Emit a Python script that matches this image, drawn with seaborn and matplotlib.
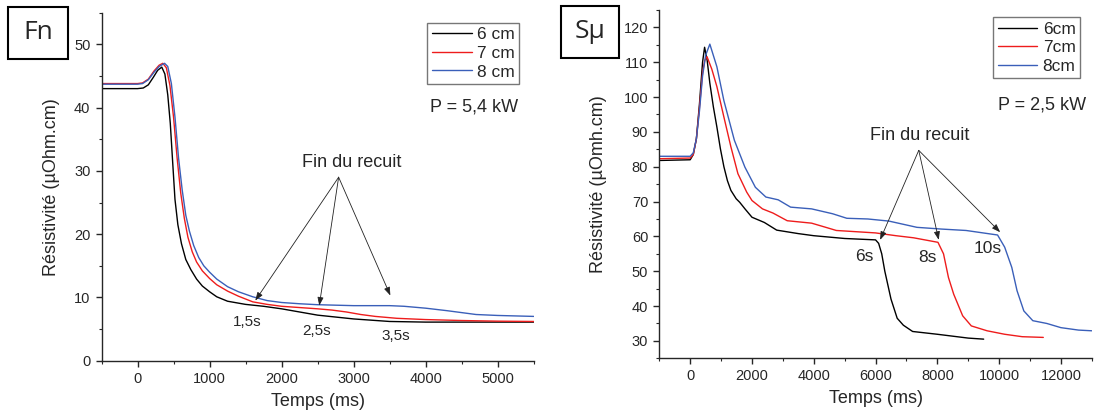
import numpy as np
import pandas as pd
import matplotlib
matplotlib.use("Agg")
import matplotlib.pyplot as plt
from matplotlib.patches import Rectangle
from matplotlib.ticker import MultipleLocator
import seaborn as sns

# ---------------- Data: left panel (Fn, P = 5,4 kW) ----------------
fn_6_x = [-500, 0, 80, 150, 220, 280, 337, 380, 420, 455, 490, 520, 560, 610, 670, 740, 820, 900, 1000,
          1100, 1250, 1500, 1750, 2000, 2250, 2500, 2750, 3000, 3250, 3500, 3750, 4000, 4500, 5000, 5500]
fn_6_y = [43.0, 43.0, 43.1, 43.6, 44.8, 45.9, 46.4, 45.3, 42.0, 37.5, 31.0, 25.5, 21.5, 18.5, 16.0, 14.4,
          12.9, 11.8, 10.9, 10.1, 9.4, 8.9, 8.6, 8.2, 7.7, 7.2, 6.9, 6.6, 6.4, 6.2, 6.15, 6.1, 6.1, 6.1, 6.1]

fn_7_x = [-500, 0, 70, 150, 230, 300, 351, 400, 450, 500, 550, 600, 650, 700, 760, 820, 900, 1000, 1100,
          1250, 1400, 1600, 1800, 2000, 2250, 2500, 2700, 2900, 3100, 3300, 3600, 4000, 4500, 5000, 5500]
fn_7_y = [43.8, 43.8, 43.9, 44.5, 45.8, 46.7, 47.0, 46.3, 43.5, 38.5, 32.0, 26.5, 22.5, 19.5, 17.2, 15.6,
          14.2, 13.0, 12.0, 11.0, 10.2, 9.3, 8.9, 8.6, 8.4, 8.2, 8.0, 7.7, 7.3, 7.0, 6.7, 6.5, 6.35, 6.25, 6.2]

fn_8_x = [-500, 0, 70, 150, 230, 300, 376, 420, 470, 520, 570, 620, 670, 720, 780, 850, 920, 1000, 1100,
          1250, 1400, 1600, 1800, 2000, 2250, 2500, 3000, 3500, 3700, 4000, 4300, 4700, 5000, 5500]
fn_8_y = [43.7, 43.7, 43.8, 44.4, 45.6, 46.5, 47.0, 46.5, 43.8, 38.5, 32.0, 27.0, 23.0, 20.5, 18.2, 16.3,
          15.0, 14.0, 12.9, 11.7, 10.9, 10.1, 9.5, 9.2, 9.0, 8.85, 8.7, 8.7, 8.6, 8.3, 7.9, 7.3, 7.15, 7.0]

# ---------------- Data: right panel (Sμ, P = 2,5 kW) ----------------
su_6_x = [-1000, 0, 100, 200, 300, 400, 466, 550, 636, 750, 864, 977, 1091, 1205, 1318, 1489, 1602, 1773,
          2000, 2400, 2800, 3500, 4000, 5000, 6000, 6100, 6200, 6300, 6500, 6700, 6900, 7200, 8000, 9000, 9500]
su_6_y = [81.8, 82.0, 83.5, 88.0, 98.0, 110.0, 114.3, 110.5, 104.0, 97.2, 91.4, 85.2, 80.0, 76.0, 73.2,
          70.8, 69.8, 67.9, 65.5, 64.0, 61.8, 60.8, 60.2, 59.4, 59.0, 58.0, 55.0, 50.0, 42.0, 36.5, 34.5,
          32.7, 31.9, 30.8, 30.5]

su_7_x = [-1000, 0, 100, 200, 300, 400, 470, 545, 700, 864, 1090, 1318, 1545, 1830, 2000, 2340, 2680,
          3140, 3930, 4390, 4730, 6000, 6660, 7230, 8020, 8200, 8360, 8530, 8820, 9100, 9610, 10180,
          10750, 11430]
su_7_y = [82.3, 82.5, 83.5, 88.0, 97.0, 107.0, 110.5, 111.6, 108.0, 103.0, 94.3, 85.7, 78.0, 72.7, 70.3,
          67.9, 66.7, 64.5, 63.8, 62.6, 61.7, 61.0, 60.2, 59.6, 58.3, 55.0, 48.2, 43.4, 37.2, 34.3, 32.9,
          31.9, 31.2, 31.0]

su_8_x = [-1000, 0, 100, 200, 300, 400, 500, 636, 864, 1090, 1430, 1770, 2110, 2450, 2850, 3250, 3930,
          4610, 5070, 5750, 6430, 7340, 8140, 8930, 9950, 10180, 10410, 10580, 10800, 11090, 11545, 12000,
          12570, 13000]
su_8_y = [83.0, 83.0, 84.0, 88.0, 96.0, 106.0, 112.0, 115.2, 108.7, 99.0, 87.6, 79.9, 74.1, 71.3, 70.5,
          68.4, 67.9, 66.5, 65.2, 65.0, 64.4, 62.6, 62.1, 61.7, 60.4, 56.9, 51.1, 44.4, 38.6, 35.8, 35.0,
          33.8, 33.1, 32.9]

fn_labels = ["6 cm", "7 cm", "8 cm"]
su_labels = ["6cm", "7cm", "8cm"]
fn_end_labels = ["1,5s", "2,5s", "3,5s"]
su_end_labels = ["6s", "8s", "10s"]

colors = ["#000000", "#ee1c1c", "#3a5fb9"]

sns.set_style("ticks")
plt.rcParams['font.family'] = ['Liberation Sans', 'DejaVu Sans']

W, H = 1095, 416
fig = plt.figure(figsize=(W/100, H/100), dpi=100)
axL = fig.add_axes([101.5/W, 1-360.7/H, 432.2/W, 348/H])
axR = fig.add_axes([659.3/W, 1-358.3/H, 432.5/W, 348.3/H])


def draw(ax, xs, ys, labels):
    for x, y, lab, c in zip(xs, ys, labels, colors):
        df = pd.DataFrame({"t": x, "r": y})
        sns.lineplot(data=df, x="t", y="r", ax=ax, color=c, lw=1.0, label=lab, sort=False)


draw(axL, [fn_6_x, fn_7_x, fn_8_x], [fn_6_y, fn_7_y, fn_8_y], fn_labels)
draw(axR, [su_6_x, su_7_x, su_8_x], [su_6_y, su_7_y, su_8_y], su_labels)

for ax in (axL, axR):
    sns.despine(ax=ax)
    ax.spines['left'].set_linewidth(1.0)
    ax.spines['bottom'].set_linewidth(1.0)
    ax.tick_params(which='major', direction='out', length=4, width=1, labelsize=10.5, pad=4)
    ax.tick_params(which='minor', direction='out', length=2.5, width=0.8)
    ax.set_xlabel("Temps (ms)", fontsize=13, labelpad=5)

axL.set_xlim(-500, 5500)
axL.set_ylim(0, 55)
axL.xaxis.set_major_locator(MultipleLocator(1000))
axL.xaxis.set_minor_locator(MultipleLocator(500))
axL.yaxis.set_major_locator(MultipleLocator(10))
axL.yaxis.set_minor_locator(MultipleLocator(5))
axL.set_ylabel("Résistivité (µOhm.cm)", fontsize=13, labelpad=10)

axR.set_xlim(-1000, 13000)
axR.set_ylim(25, 125)
axR.xaxis.set_major_locator(MultipleLocator(2000))
axR.xaxis.set_minor_locator(MultipleLocator(1000))
axR.yaxis.set_minor_locator(MultipleLocator(5))
axR.set_yticks(np.arange(30, 121, 10))
axR.set_ylabel("Résistivité (µOmh.cm)", fontsize=13, labelpad=12)

for ax, anchor in ((axL, (0.966, 0.971)), (axR, (0.9725, 0.979))):
    leg = ax.legend(loc='upper right', bbox_to_anchor=anchor, frameon=True, fancybox=False,
                    edgecolor='#777777', framealpha=1, fontsize=12.5, handlelength=2.3,
                    handletextpad=0.3, borderpad=0.25, labelspacing=0.2, borderaxespad=0)
    leg.get_frame().set_linewidth(1.0)

axL.text(0.9646, 0.730, "P = 5,4 kW", transform=axL.transAxes, ha='right', va='center', fontsize=13)
axR.text(0.987, 0.727, "P = 2,5 kW", transform=axR.transAxes, ha='right', va='center', fontsize=13)

arrow_kw = dict(arrowstyle="-|>,head_length=0.5,head_width=0.18", color="#222222", lw=0.6,
                shrinkA=0, shrinkB=0)

# left annotations
axL.text(2972, 31.3, "Fin du recuit", ha='center', va='center', fontsize=13)
for tip in [(1635, 9.5), (2523, 8.7), (3510, 10.3)]:
    axL.annotate("", xy=tip, xytext=(2792, 29.0), arrowprops=arrow_kw)
for (tx, ty), s in zip([(1523, 6.06), (2489, 4.75), (3587, 3.96)], fn_end_labels):
    axL.text(tx, ty, s, ha='center', va='center', fontsize=11)

# right annotations
axR.text(7432, 89.0, "Fin du recuit", ha='center', va='center', fontsize=13)
for tip in [(6148, 59.0), (8045, 59.0), (10034, 61.2)]:
    axR.annotate("", xy=tip, xytext=(7398, 84.7), arrowprops=arrow_kw)
for (tx, ty), s in zip([(5636, 54.2), (7682, 54.0), (9636, 56.4)], su_end_labels):
    axR.text(tx, ty, s, ha='center', va='center', fontsize=12.5)

# panel tags
for (x0, y0, x1, y1), s in [((8.3, 6.7, 67.7, 59), "Fn"), ((560.7, 5.7, 619, 58.3), "Sμ")]:
    fig.add_artist(Rectangle((x0/W, 1-y1/H), (x1-x0)/W, (y1-y0)/H,
                             transform=fig.transFigure, fill=False, lw=1.5, ec='black'))
    fig.text((x0+x1)/2/W, 1-(y0+y1)/2/H, s, ha='center', va='center', fontsize=19,
             family=['Open Sans', 'DejaVu Sans'])

fig.savefig("out.png", dpi=100)
